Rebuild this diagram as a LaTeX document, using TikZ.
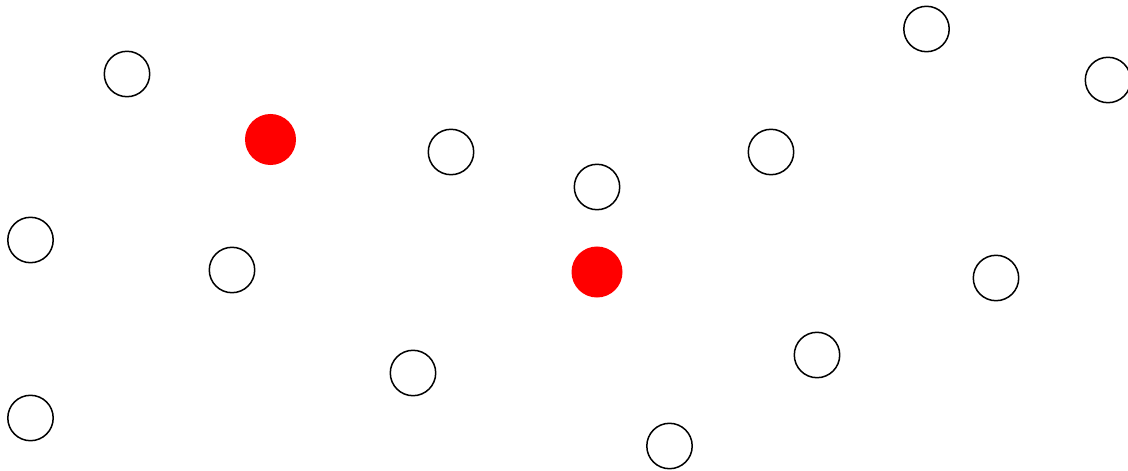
\documentclass[tikz,border=0pt]{standalone}
\usepackage{tikz}

\begin{document}
\begin{tikzpicture}[
      x=0.025cm, y=-0.025cm,
      site/.style={draw, circle, line width=1.07pt, minimum size=1.135cm, inner sep=0pt},
      hub/.style={circle, fill=red, minimum size=1.275cm, inner sep=0pt}
    ]

    \useasboundingbox (0,0) rectangle (1128,471);

    \node[site] (s1)  at (127, 74)   {};
    \node[hub]  (h1)  at (270.5, 139.5) {};
    \node[site] (s2)  at (451, 152)  {};
    \node[site] (s3)  at (597, 187)  {};
    \node[site] (s4)  at (771, 152)  {};
    \node[site] (s5)  at (926.5, 29) {};
    \node[site] (s6)  at (1108, 80)  {};
    \node[site] (s7)  at (30.5, 240) {};
    \node[site] (s8)  at (232, 270)  {};
    \node[hub]  (h2)  at (597, 272)  {};
    \node[site] (s9)  at (996, 278)  {};
    \node[site] (s10) at (817, 355)  {};
    \node[site] (s11) at (413, 373)  {};
    \node[site] (s12) at (30.5, 418) {};
    \node[site] (s13) at (669.5, 446) {};
  \end{tikzpicture}
\end{document}
